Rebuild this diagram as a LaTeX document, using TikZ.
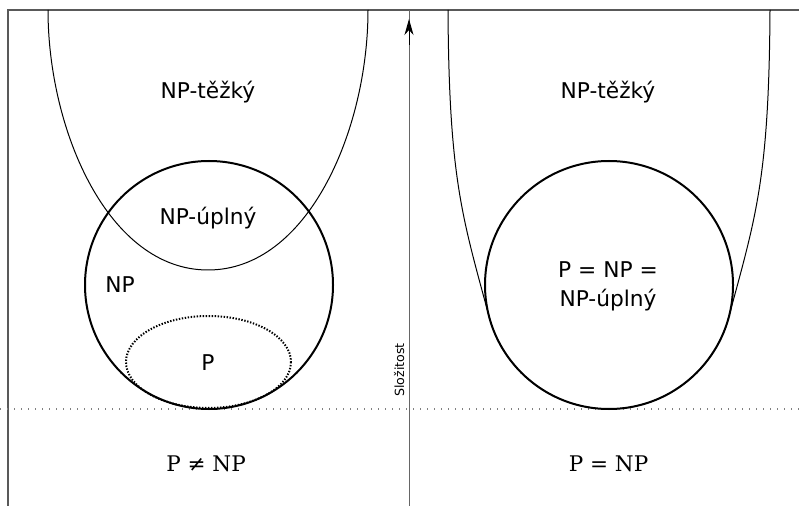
\documentclass[tikz,border=0pt]{standalone}
\usepackage{fontspec}
\setmainfont{DejaVu Serif}
\setsansfont{DejaVu Sans}
\usetikzlibrary{arrows.meta}
\begin{document}
\begin{tikzpicture}[x=1bp,y=-1bp,
  lbl/.style={font=\sffamily\fontsize{21.8}{29}\selectfont, inner sep=0pt, anchor=base},
  eqlbl/.style={font=\rmfamily\fontsize{21.6}{26}\selectfont, inner sep=0pt, anchor=base},
  axislbl/.style={font=\sffamily\fontsize{12.7}{15}\selectfont, inner sep=0pt, anchor=base, rotate=90},
  setline/.style={line width=2bp},
  hardline/.style={line width=1bp},
  framel/.style={draw=black!65, line width=1.5bp},
  axisline/.style={draw=black!60, line width=1bp},
  baseline/.style={draw=black!50, line width=1.2bp, dash pattern=on 1.2bp off 5.8bp},
  pline/.style={line width=2bp, dash pattern=on 1.4bp off 1.6bp}]
\useasboundingbox (0,0) rectangle (799,506);
% frame
\coordinate (tl) at (8,10);
\coordinate (tr) at (799,10);
\coordinate (bl) at (8,506);
\draw[framel] (bl) -- (tl) -- (tr);
% baseline
\coordinate (dl) at (0,409);
\coordinate (dr) at (799,409);
\draw[baseline] (dl) -- (dr);
% axis
\coordinate (axb) at (409,506);
\coordinate (axt) at (409,10);
\coordinate (axm) at (409,45);
\coordinate (axtip) at (409,19);
\draw[axisline] (axb) -- (axt);
\draw[line width=1bp, -{Stealth[length=16bp, width=9bp, inset=5bp]}] (axm) -- (axtip);
\node[axislbl] (slozitost) at (404,370) {Složitost};
% left: NP-hard region
\coordinate (lh1) at (48,10);
\coordinate (lhb) at (208,270);
\coordinate (lh2) at (368,10);
\draw[hardline] (lh1) .. controls (48,130) and (108,270) .. (lhb)
  .. controls (308,270) and (368,130) .. (lh2);
% left: NP circle and P ellipse
\draw[setline] (209,285) circle[radius=124];
\draw[pline] (208.5,362) ellipse[x radius=82.5, y radius=46];
% right: NP-hard region
\coordinate (rh1) at (448,10);
\coordinate (rt1) at (489.22,317.09);
\coordinate (rt2) at (728.78,317.09);
\coordinate (rh2) at (770,10);
\draw[hardline] (rh1) .. controls (449,180) and (462.4,217.1) .. (rt1)
  arc[start angle=165, end angle=15, radius=124]
  .. controls (755.6,217.1) and (769,180) .. (rh2);
\draw[setline] (609,285) circle[radius=124];
% labels
\node[lbl] (lhard) at (208,99) {NP-těžký};
\node[lbl] (lcomp) at (208,225) {NP-úplný};
\node[lbl] (lnp) at (120,293) {NP};
\node[lbl] (lp) at (208,370) {P};
\node[lbl] (rhard) at (608,99) {NP-těžký};
\node[lbl] (req1) at (608,278) {P = NP =};
\node[lbl] (req2) at (608,307) {NP-úplný};
\node[eqlbl] (neq) at (206,471) {P ≠ NP};
\node[eqlbl] (eq) at (608.5,471) {P = NP};
\end{tikzpicture}
\end{document}
